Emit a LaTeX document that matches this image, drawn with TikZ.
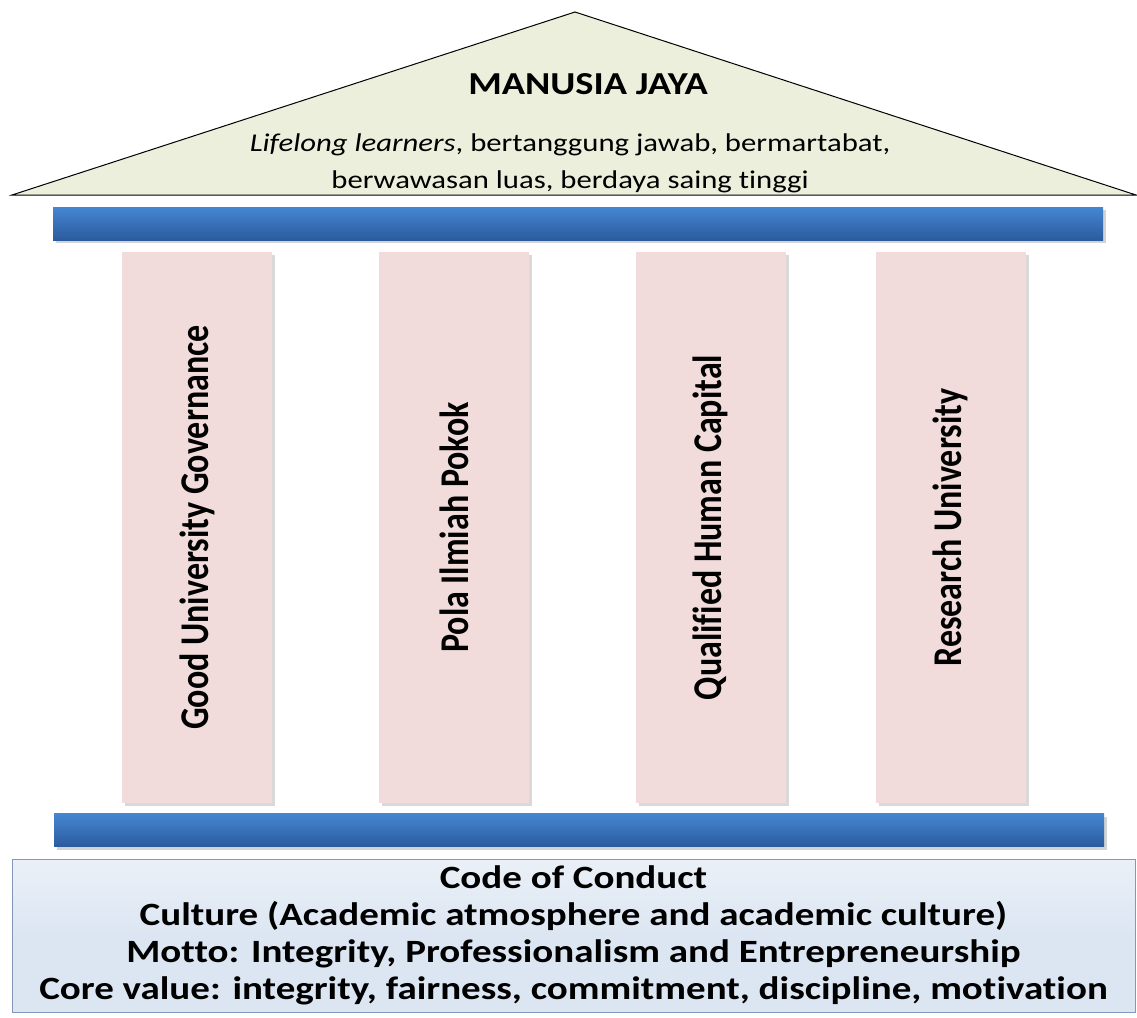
\documentclass[tikz,border=0pt]{standalone}
\usepackage{fontspec}
\setmainfont{Carlito}[FakeStretch=1.2, Ligatures=CommonOff]
\newfontfamily\pillarfont{Carlito}[Ligatures=CommonOff]
\usetikzlibrary{shadows}
\definecolor{roofgreen}{HTML}{EDEFDD}
\definecolor{roofline}{HTML}{6F84A6}
\definecolor{beamtop}{HTML}{4586D2}
\definecolor{beambot}{HTML}{2B5B9E}
\definecolor{pillarpink}{HTML}{F2DCDB}
\definecolor{basefill}{HTML}{DCE6F2}
\definecolor{baseline}{HTML}{8297B9}
\begin{document}
\begin{tikzpicture}[x=1pt,y=-1pt,
    beam/.style={rectangle, inner sep=0pt, minimum width=1050pt, minimum height=33pt,
      top color=beamtop, bottom color=beambot,
      drop shadow={shadow xshift=3pt, shadow yshift=-3pt, opacity=0.35}},
    pillar/.style={rectangle, inner sep=0pt, minimum width=150pt, minimum height=551pt,
      fill=pillarpink, font=\pillarfont\bfseries\fontsize{34}{40}\selectfont,
      drop shadow={shadow xshift=3pt, shadow yshift=-3pt, opacity=0.3}},
    roofline/.style={font=\fontsize{25.6}{37}\selectfont, align=center},
    baseblock/.style={rectangle, draw=baseline, line width=1pt, inner sep=0pt,
      minimum width=1123pt, minimum height=153pt,
      top color=basefill!60, bottom color=basefill, middle color=basefill,
      font=\bfseries\fontsize{32.5}{37}\selectfont, align=center}]
  \useasboundingbox (0,0) rectangle (1137,1017);
  % roof
  \draw[roofline, fill=roofgreen, line width=1pt]
    (12,195) -- (575,12) -- (1136,195) -- cycle;
  \node[font=\bfseries\fontsize{32}{38}\selectfont] (title) at (588,84) {MANUSIA JAYA};
  \node[roofline] (roof) at (570,163)
    {\textit{Lifelong learners}, bertanggung jawab, bermartabat,\\
     berwawasan luas, berdaya saing tinggi};
  % beams
  \node[beam] (topbeam) at (578,223.5) {};
  \node[beam] (lowbeam) at (579,830) {};
  % pillars
  \node[pillar] (1) at (197,527.5) {\scalebox{1.2}[1]{\rotatebox{90}{Good University Governance}}};
  \node[pillar] (2) at (454,527.5) {\scalebox{1.2}[1]{\rotatebox{90}{Pola Ilmiah Pokok}}};
  \node[pillar] (3) at (710.5,527.5) {\scalebox{1.2}[1]{\rotatebox{90}{Qualified Human Capital}}};
  \node[pillar] (4) at (950.5,527.5) {\scalebox{1.2}[1]{\rotatebox{90}{Research University}}};
  % foundation
  \node[baseblock] (base) at (573.5,935.5)
    {Code of Conduct\\
     Culture (Academic atmosphere and academic culture)\\
     Motto: Integrity, Professionalism and Entrepreneurship\\
     Core value: integrity, fairness, commitment, discipline, motivation};
\end{tikzpicture}
\end{document}
